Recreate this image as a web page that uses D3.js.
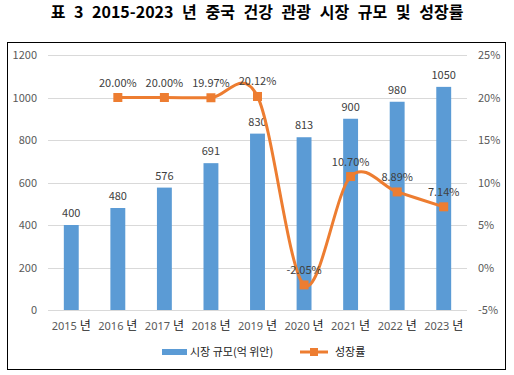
<!DOCTYPE html>
<html><head><meta charset="utf-8">
<script src="https://cdn.jsdelivr.net/npm/d3@7"></script>
<style>
body{margin:0;background:#fff;}
text{font-family:"Noto Sans CJK KR","Noto Sans",sans-serif;}
</style></head>
<body>
<svg id="c" width="514" height="375"></svg>
<script>
const years = ["2015","2016","2017","2018","2019","2020","2021","2022","2023"];
const marketSize = [400,480,576,691,830,813,900,980,1050];
const growthRate = [null,20.00,20.00,19.97,20.12,-2.05,10.70,8.89,7.14];
const leftTicks = [0,200,400,600,800,1000,1200];
const rightTicks = [-5,0,5,10,15,20,25];
const titleText = "표 3 2015-2023 년 중국 건강 관광 시장 규모 및 성장률";
const seriesNames = ["시장 규모(억 위안)","성장률"];

const svg = d3.select("#c");
const m = {l:48, r:467, t:55, b:310};
const blue = "#5B9BD5", orange = "#ED7D31", axisText = "#595959";

svg.append("text").attr("x",257).attr("y",18).attr("text-anchor","middle")
  .attr("font-size",16).attr("font-weight","bold").attr("fill","#000")
  .attr("word-spacing",5).text(titleText);

svg.append("rect").attr("x",7.5).attr("y",42.5).attr("width",498).attr("height",327)
  .attr("fill","none").attr("stroke","#000").attr("stroke-width",1);

const x = d3.scaleBand().domain(years).range([m.l,m.r]).paddingInner(0.68).paddingOuter(0.34);
const yL = d3.scaleLinear().domain([0,1200]).range([m.b,m.t]);
const yR = d3.scaleLinear().domain([-5,25]).range([m.b,m.t]);

// gridlines
svg.append("g").selectAll("line").data(leftTicks).join("line")
  .attr("x1",m.l).attr("x2",m.r).attr("y1",d=>Math.round(yL(d))+0.5).attr("y2",d=>Math.round(yL(d))+0.5)
  .attr("stroke","#d9d9d9").attr("stroke-width",1);

// left axis
const ga = svg.append("g").attr("transform",`translate(${m.l-11},0)`)
  .call(d3.axisLeft(yL).tickValues(leftTicks).tickSize(0).tickPadding(0).tickFormat(d3.format("d")));
ga.select(".domain").remove();
ga.selectAll("text").attr("fill",axisText).attr("font-size",11).attr("font-family","'Noto Sans',sans-serif");

// right axis
const gr = svg.append("g").attr("transform",`translate(${m.r+11},0)`)
  .call(d3.axisRight(yR).tickValues(rightTicks).tickSize(0).tickPadding(0).tickFormat(d=>d+"%"));
gr.select(".domain").remove();
gr.selectAll("text").attr("fill",axisText).attr("font-size",11).attr("font-family","'Noto Sans',sans-serif");

// x axis labels
const xl = svg.append("g").selectAll("text").data(years).join("text")
  .attr("x",d=>x(d)+x.bandwidth()/2).attr("y",330).attr("text-anchor","middle");
xl.append("tspan").attr("fill",axisText).attr("font-size",11).attr("font-family","'Noto Sans',sans-serif").text(d=>d+" ");
xl.append("tspan").attr("fill","#222").attr("font-size",12).text("년");

// bars
svg.append("g").selectAll("rect").data(marketSize).join("rect")
  .attr("x",(d,i)=>x(years[i])).attr("width",x.bandwidth())
  .attr("y",d=>yL(d)).attr("height",d=>yL(0)-yL(d)).attr("fill",blue);

svg.append("g").selectAll("text").data(marketSize).join("text")
  .attr("x",(d,i)=>x(years[i])+x.bandwidth()/2).attr("y",d=>yL(d)-8)
  .attr("text-anchor","middle").attr("font-size",11).attr("fill","#404040")
  .attr("font-family","'Noto Sans',sans-serif").text(d=>d);

// line
const pts = growthRate.map((v,i)=>({x:x(years[i])+x.bandwidth()/2, v})).filter(p=>p.v!==null);
const line = d3.line().x(p=>p.x).y(p=>yR(p.v)).curve(d3.curveCardinal.tension(0));
svg.append("path").attr("d",line(pts)).attr("fill","none").attr("stroke",orange).attr("stroke-width",3);
svg.append("g").selectAll("rect").data(pts).join("rect")
  .attr("x",p=>p.x-4.5).attr("y",p=>yR(p.v)-4.5).attr("width",9).attr("height",9).attr("fill",orange);
svg.append("g").selectAll("text").data(pts).join("text")
  .attr("x",p=>p.x).attr("y",p=>yR(p.v)-11)
  .attr("text-anchor","middle").attr("font-size",11).attr("fill","#404040")
  .attr("font-family","'Noto Sans',sans-serif").text(p=>p.v.toFixed(2)+"%");

// legend
const lg = svg.append("g");
lg.append("rect").attr("x",162).attr("y",349).attr("width",25).attr("height",6).attr("fill",blue);
lg.append("text").attr("x",190).attr("y",356).attr("font-size",11).attr("fill","#222").text(seriesNames[0]);
lg.append("line").attr("x1",300).attr("x2",328).attr("y1",352).attr("y2",352).attr("stroke",orange).attr("stroke-width",3);
lg.append("rect").attr("x",310).attr("y",348).attr("width",8).attr("height",8).attr("fill",orange);
lg.append("text").attr("x",335).attr("y",356).attr("font-size",11).attr("fill","#222").text(seriesNames[1]);
</script>
</body></html>
